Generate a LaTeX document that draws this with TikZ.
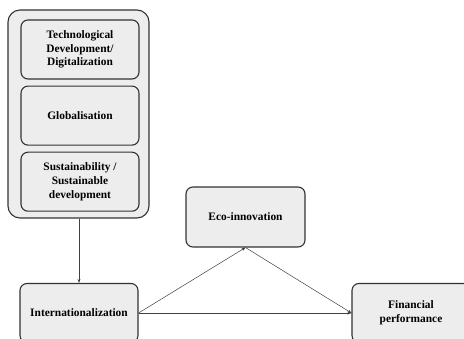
\documentclass[tikz,border=0pt]{standalone}
\usepackage{fontspec}
\setmainfont{Liberation Serif}
\usetikzlibrary{positioning, arrows.meta}

\begin{document}
\begin{tikzpicture}[x=1pt, y=-1pt,
                boxnode/.style={rectangle, rounded corners=7pt, draw=black!80, fill=black!7, line width=1.1pt, align=center, font=\fontsize{11.4}{13.8}\selectfont\bfseries, inner sep=0pt},
                innernode/.style={boxnode, minimum width=118pt, minimum height=59pt},
                outernode/.style={rectangle, rounded corners=12pt, draw=black!80, fill=black!7, line width=1.1pt, minimum width=141pt, minimum height=208pt},
                link/.style={-{Stealth[length=4pt, width=3pt]}, draw=black!75, line width=0.5pt},
                ]
                \useasboundingbox (0,0) rectangle (464,339);
                %Nodes
                \node[outernode]        (drivers)       at (78.5,114)                {};
                \node[innernode]        (tech)          at (80,49.5)                 {Technological\\Development/\\Digitalization};
                \node[innernode]        (glob)          [below=6pt of tech]          {Globalisation};
                \node[innernode]        (sust)          [below=6pt of glob]          {Sustainability /\\Sustainable\\development};
                \node[boxnode, minimum width=118pt, minimum height=59pt] (intern) at (79,313) {Internationalization};
                \node[boxnode, minimum width=119pt, minimum height=60pt] (eco)    at (245.5,217) {Eco-innovation};
                \node[boxnode, minimum width=118pt, minimum height=59pt] (fin)    at (411,313) {Financial\\performance};

                %Lines
                \draw[link] (drivers.south -| intern.north) -- (intern.north);
                \draw[link] (intern.east) -- (eco.south);
                \draw[link] (eco.south) -- (fin.west);
                \draw[link] (intern.east) -- (fin.west);
\end{tikzpicture}
\end{document}
